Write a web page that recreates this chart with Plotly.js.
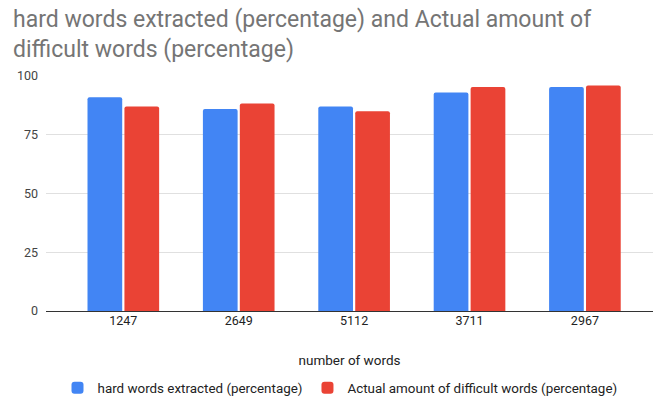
<!DOCTYPE html>
<html>
<head>
<meta charset="utf-8">
<script src="https://cdn.plot.ly/plotly-3.0.1.min.js"></script>
<style>html,body{margin:0;padding:0;background:#fff;}#chart{width:654px;height:396px;}</style>
</head>
<body>
<div id="chart"></div>
<script>
const categories = ["1247", "2649", "5112", "3711", "2967"];
const hardWordsExtracted = [91, 86, 87, 93, 95.3];
const actualDifficultWords = [87, 88.3, 85, 95.3, 96];
const seriesNames = ["hard words extracted (percentage)", "Actual amount of difficult words (percentage)"];
const yTicks = [0, 25, 50, 75, 100];
const chartTitle = "hard words extracted (percentage) and Actual amount of<br>difficult words (percentage)";
const xTitle = "number of words";

const FONT = "Roboto, Arial, sans-serif";

const traces = [
  {type: "bar", x: categories, y: hardWordsExtracted, name: seriesNames[0],
   marker: {color: "#4285F4", cornerradius: 2}, hoverinfo: "none"},
  {type: "bar", x: categories, y: actualDifficultWords, name: seriesNames[1],
   marker: {color: "#EA4335", cornerradius: 2}, hoverinfo: "none"}
];

const layout = {
  width: 654, height: 396,
  margin: {l: 46, r: 1, t: 76, b: 85, pad: 0},
  paper_bgcolor: "#fff", plot_bgcolor: "#fff",
  font: {family: FONT, color: "#444", size: 12},
  title: {text: chartTitle, font: {family: FONT, size: 23, color: "#757575"},
          x: 13/654, xanchor: "left", xref: "container",
          y: 1 - 27/396, yanchor: "top", yref: "container"},
  barmode: "group", bargap: 0.36, bargroupgap: 0.06,
  xaxis: {type: "category", range: [-0.67, 4.59], showgrid: false, zeroline: false,
          showline: false, ticks: "", tickfont: {size: 12.5, color: "#222"},
          title: {text: xTitle, font: {size: 13.5, color: "#222"}, standoff: 29},
          automargin: false, fixedrange: true},
  yaxis: {range: [0, 100], tickvals: yTicks, showgrid: true, gridcolor: "#e0e0e0",
          gridwidth: 1, zeroline: true, zerolinecolor: "#333", zerolinewidth: 1,
          showline: false, ticks: "", ticklabelstandoff: 7, tickfont: {size: 12.5, color: "#444"},
          automargin: false, fixedrange: true},
  showlegend: true,
  legend: {orientation: "h", xref: "container", yref: "container",
           x: 340/654, xanchor: "center", y: 8/396, yanchor: "middle",
           font: {size: 13.4, color: "#222"}, itemclick: false, traceorder: "normal"}
};

Plotly.newPlot("chart", traces, layout, {displayModeBar: false, staticPlot: true});
</script>
</body>
</html>
